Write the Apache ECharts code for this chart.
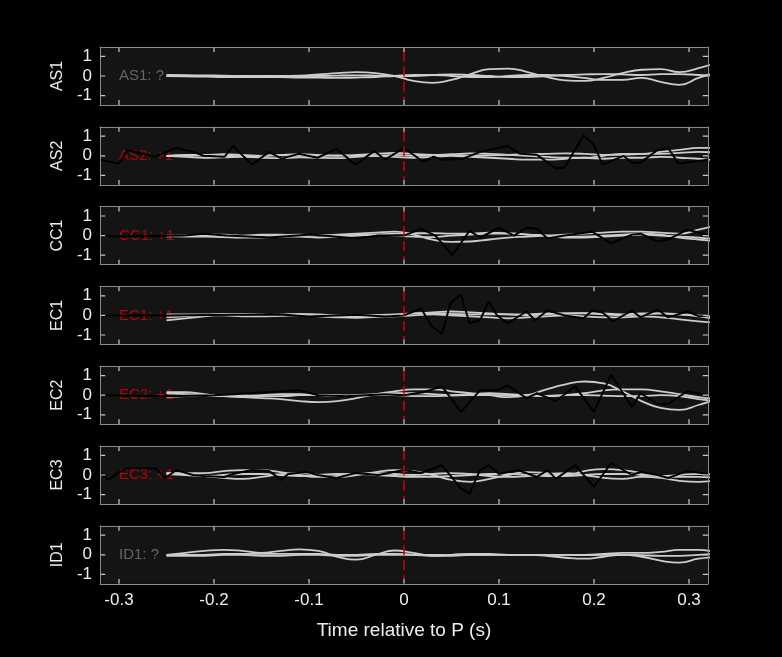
<!DOCTYPE html>
<html>
<head>
<meta charset="UTF-8">
<title>Time relative to P</title>
<style>
  html, body { margin: 0; background: #000; }
  #chart { width: 782px; height: 657px; }
</style>
</head>
<body>
<div id="chart"></div>
<script src="https://cdn.jsdelivr.net/npm/echarts@6/dist/echarts.min.js"></script>
<script>
// station names and their polarity labels
const stations = ['AS1', 'AS2', 'CC1', 'EC1', 'EC2', 'EC3', 'ID1']
const polarity = ['?', '+1', '+1', '+1', '+1', '+1', '?']

// time grid of the gray traces
const grayT = [-0.25, -0.23, -0.21, -0.19, -0.17, -0.15, -0.13, -0.11, -0.09, -0.07, -0.05, -0.03, -0.01,
  0.01, 0.03, 0.05, 0.07, 0.09, 0.11, 0.13, 0.15, 0.17, 0.19, 0.21, 0.23, 0.25, 0.27, 0.29, 0.31, 0.33]

const grayAS1 = [
  [0, 0, 0, 0, 0, 0, 0, 0.02, 0.08, 0.15, 0.2, 0.15, 0, -0.25, -0.35, -0.2, 0.1, 0.35, 0.38, 0.2, -0.05, -0.22, -0.25, -0.1, 0.15, 0.32, 0.35, 0.2, 0.4, 0.7],
  [0, -0.02, -0.03, -0.05, -0.05, -0.05, -0.05, -0.08, -0.08, -0.1, -0.08, -0.05, 0, 0.05, 0.05, 0, -0.05, -0.05, 0, 0.05, 0.05, 0, -0.1, -0.2, -0.2, -0.1, -0.3, -0.45, -0.1, 0.2],
  [0.05, 0.04, 0.03, 0.02, 0, -0.02, -0.03, -0.02, 0, 0.02, 0.03, 0.02, 0, 0, 0.05, 0.08, 0.05, 0, -0.05, -0.05, 0, 0.05, 0.08, 0.1, 0.08, 0.05, 0.1, 0.1, 0.05, 0]
]
const grayAS2 = [
  [0, 0.05, 0.05, 0.08, 0.05, 0, 0.05, 0.08, 0.05, 0, 0.05, 0.1, 0.15, 0.1, 0.05, 0.08, 0.12, 0.1, 0.05, 0, -0.05, -0.1, -0.1, 0, 0.1, 0.1, 0.2, 0.3, 0.4, 0.4],
  [0, -0.05, -0.1, -0.08, -0.05, -0.1, -0.12, -0.08, -0.1, -0.12, -0.05, 0, -0.05, -0.1, -0.05, 0, -0.05, -0.1, -0.15, -0.2, -0.2, -0.15, -0.1, -0.15, -0.1, -0.1, -0.05, -0.1, -0.15, -0.25],
  [0, 0, 0.02, 0, -0.02, 0, 0.03, 0, 0, 0.02, 0, 0, 0.05, 0, 0.02, 0.05, 0, 0.02, 0.05, 0.08, 0.1, 0.12, 0.1, 0.05, 0.05, 0.1, 0.1, 0.15, 0.2, 0.15]
]
const grayCC1 = [
  [-0.05, 0, 0.05, 0.05, 0, 0.05, 0.05, 0, 0, 0.05, 0.1, 0.15, 0.2, 0.05, -0.2, -0.32, -0.3, -0.2, -0.1, -0.05, 0, 0.05, 0.1, 0.15, 0.2, 0.2, 0.15, 0.1, 0.3, 0.55],
  [0, -0.05, -0.05, -0.08, -0.1, -0.1, -0.05, -0.05, -0.1, -0.05, 0, 0.05, 0.1, 0.12, 0.12, 0.1, 0.1, 0.15, 0.12, 0.05, 0, -0.05, -0.05, 0, 0.05, 0.1, 0.05, -0.1, -0.2, -0.3],
  [0, 0, 0.02, 0, -0.02, 0, 0.02, 0.05, 0.02, 0, 0.03, 0.05, 0, -0.05, -0.08, 0, 0.05, 0.1, 0.1, 0.05, 0, -0.1, -0.1, -0.05, 0, 0.05, 0, -0.05, -0.1, -0.2]
]
const grayEC1 = [
  [-0.25, -0.15, -0.05, 0.05, 0.08, 0.05, 0, 0.02, 0, -0.05, -0.08, -0.05, 0, 0.1, 0.15, 0.2, 0.15, 0.1, 0.05, 0, 0.05, 0.1, 0.1, 0.05, 0, 0.05, 0.1, 0.05, 0, -0.1],
  [-0.1, -0.05, 0, 0, -0.05, -0.05, -0.02, 0, -0.05, -0.1, -0.12, -0.08, -0.05, 0, 0.05, 0, -0.05, -0.1, -0.15, -0.1, -0.05, 0, -0.05, -0.1, -0.1, -0.05, -0.1, -0.2, -0.3, -0.4],
  [0.05, 0.05, 0.05, 0.08, 0.05, 0, 0.05, 0.08, 0.05, 0, 0, 0.02, 0.05, 0.1, 0.1, 0.08, 0.05, 0.05, 0.05, 0.05, 0.1, 0.1, 0.12, 0.1, 0.05, 0.1, 0.1, 0.05, -0.05, -0.2]
]
const grayEC2 = [
  [0.15, 0.15, 0.05, -0.05, -0.1, -0.15, -0.2, -0.3, -0.35, -0.3, -0.15, 0.05, 0.2, 0.3, 0.3, 0.2, 0.1, 0, -0.1, 0, 0.3, 0.55, 0.7, 0.6, 0.2, -0.3, -0.65, -0.75, -0.5, -0.2],
  [0.1, 0.05, 0, -0.05, -0.05, 0, 0.05, 0.05, 0, -0.05, 0, 0.05, 0.1, 0.1, 0.05, 0, 0.05, 0.1, 0.05, 0, -0.05, 0, 0.1, 0.25, 0.3, 0.3, 0.2, 0.05, -0.1, -0.2],
  [-0.1, -0.05, 0, 0.02, 0, -0.05, -0.05, 0, 0.02, 0, -0.02, 0, 0, -0.05, -0.05, -0.02, 0, 0, 0, -0.02, -0.03, 0, 0, -0.02, -0.05, -0.05, 0, -0.05, -0.2, -0.3]
]
const grayEC3 = [
  [0.1, 0.05, -0.05, -0.15, -0.2, -0.1, 0.05, 0.1, 0, -0.1, 0, 0.15, 0.25, 0.2, 0, -0.25, -0.35, -0.2, 0, 0.15, 0.1, 0, 0.2, 0.3, 0.25, 0.1, -0.05, 0, 0.05, 0],
  [0.1, 0.1, 0.1, 0.2, 0.25, 0.25, 0.15, 0, -0.1, -0.05, 0.05, 0.1, 0.05, 0, 0.05, 0.1, 0.05, -0.05, -0.1, -0.05, 0.05, 0.1, 0, -0.15, -0.2, -0.1, -0.15, -0.3, -0.35, -0.25],
  [0.05, 0, -0.05, 0, 0.05, 0.05, 0, -0.05, 0, 0.05, 0.05, 0, -0.05, -0.1, -0.1, -0.05, 0, 0.05, 0.05, 0, -0.05, -0.05, 0, 0.05, 0.05, 0, -0.05, -0.1, -0.1, -0.15]
]
const grayID1 = [
  [0, 0.1, 0.2, 0.25, 0.2, 0.1, 0.2, 0.28, 0.2, -0.1, -0.25, 0, 0.22, 0.1, -0.05, -0.05, 0, 0, 0, 0, -0.05, -0.15, -0.2, -0.1, 0, -0.1, -0.3, -0.4, -0.2, -0.1],
  [0, 0, 0, 0.05, 0.05, 0.05, 0.05, 0.05, 0.05, 0, 0, 0.05, 0.05, 0, -0.05, 0, 0.05, 0.05, 0, 0, 0, 0, 0, 0.05, 0.1, 0.1, 0.15, 0.25, 0.25, 0.1],
  [-0.05, -0.05, -0.05, 0, 0, -0.05, -0.05, 0, 0, -0.05, -0.05, 0, 0, 0, 0, -0.02, 0, 0, 0, 0, 0, 0, -0.02, 0, 0, -0.02, -0.05, -0.05, 0, 0.05]
]

// black (picked) traces: times and values
const blackAS2T = [-0.32, -0.3, -0.291, -0.262, -0.24, -0.222, -0.211, -0.189, -0.18, -0.16, -0.142, -0.129, -0.111, -0.091, -0.071, -0.051, -0.031, -0.02, 0,
  0.02, 0.031, 0.04, 0.062, 0.08, 0.109, 0.122, 0.14, 0.16, 0.169, 0.189, 0.2, 0.209, 0.231, 0.24, 0.249, 0.267, 0.278, 0.289, 0.311, 0.32]
const blackAS2V = [-0.2, -0.4, 0.3, -0.05, 0.4, 0.2, 0, -0.05, 0.5, -0.45, 0.2, -0.15, 0.1, -0.1, 0.35, -0.45, 0.25, -0.2, 0.4,
  -0.3, -0.05, -0.2, -0.15, 0.2, 0.5, 0.1, 0.05, -0.65, -0.6, 1.05, 0.55, -0.45, 0, -0.35, -0.35, 0.3, 0.4, -0.4, -0.25, -0.2]
const blackCC1T = [-0.32, -0.3, -0.231, -0.211, -0.187, -0.142, -0.098, -0.049, -0.027, 0, 0.018, 0.033, 0.051, 0.069, 0.08, 0.1, 0.116, 0.129, 0.14, 0.151,
  0.169, 0.198, 0.218, 0.24, 0.249, 0.267, 0.278, 0.298, 0.32]
const blackCC1V = [0, -0.05, 0, 0.1, 0, -0.1, 0.05, -0.15, 0, 0, 0.35, 0, -1.0, 0.25, -0.1, 0.4, 0, 0.4, 0.35, -0.15,
  0, 0.2, -0.4, 0.05, 0.1, -0.3, -0.2, 0.3, 0.05]
const blackEC1T = [-0.32, -0.25, -0.18, -0.13, -0.1, -0.05, -0.02, 0, 0.018, 0.029, 0.04, 0.049, 0.06, 0.069, 0.08, 0.089, 0.098, 0.109, 0.129, 0.138,
  0.151, 0.169, 0.189, 0.198, 0.209, 0.22, 0.24, 0.249, 0.267, 0.278, 0.298, 0.311, 0.32]
const blackEC1V = [0, 0, 0.03, 0.05, -0.05, 0.03, -0.05, 0, 0.35, -0.55, -0.95, 0.65, 1.05, -0.4, -0.25, 0.7, 0, -0.4, 0.2, -0.25,
  0.25, 0, -0.15, 0.25, 0.15, -0.3, 0.25, -0.1, 0.3, -0.1, 0.2, -0.05, 0]
const blackEC2T = [-0.32, -0.25, -0.2, -0.18, -0.111, -0.09, -0.06, -0.02, 0, 0.02, 0.04, 0.06, 0.08, 0.098, 0.109, 0.129, 0.14, 0.16, 0.18, 0.2,
  0.218, 0.24, 0.249, 0.267, 0.278, 0.298, 0.32]
const blackEC2V = [0, -0.05, 0, 0.05, 0.25, 0, -0.05, 0.05, 0, 0.15, 0.45, -0.85, 0.25, 0.25, 0.5, -0.15, 0.1, -0.3, 0.45, -0.85,
  1.05, -0.6, 0.1, -0.45, -0.45, 0.2, 0]
const blackEC3T = [-0.32, -0.311, -0.3, -0.291, -0.262, -0.251, -0.24, -0.222, -0.211, -0.189, -0.18, -0.16, -0.142, -0.129, -0.122, -0.102, -0.091,
  -0.071, -0.051, -0.027, 0, 0.018, 0.04, 0.06, 0.069, 0.08, 0.089, 0.1, 0.12, 0.14, 0.151, 0.16, 0.18, 0.2, 0.218, 0.24, 0.249, 0.267, 0.278, 0.298, 0.32]
const blackEC3V = [0.1, -0.25, 0.15, 0.35, 0.35, -0.15, 0.25, 0, -0.05, -0.1, 0.05, 0.25, 0.2, -0.25, 0.05, 0.15, 0,
  -0.15, 0.1, 0, 0.25, 0.1, 0.5, -0.7, -0.95, 0.25, 0.5, 0.05, 0.25, -0.1, 0.25, -0.2, 0.5, -0.6, 0.6, 0, 0.15, 0, -0.15, 0.2, 0.05]

const grays = [grayAS1, grayAS2, grayCC1, grayEC1, grayEC2, grayEC3, grayID1]
const blacks = [null, [blackAS2T, blackAS2V], [blackCC1T, blackCC1V], [blackEC1T, blackEC1V],
  [blackEC2T, blackEC2V], [blackEC3T, blackEC3V], null]

const xTicks = [-0.3, -0.2, -0.1, 0, 0.1, 0.2, 0.3]
const yTicks = [-1, 0, 1]

const font = 'Liberation Sans, Arial, sans-serif'
const zip = (t, v) => t.map((x, i) => [x, v[i]])
const frame = '#8a8a8a'
const X0 = -0.32, X1 = 0.32, Y0 = -1.48, Y1 = 1.48

// inward tick marks on all four sides, as short broken line segments
const tickPath = []
xTicks.forEach(t => {
  tickPath.push([t, Y0], [t, Y0 + 0.25], '-', [t, Y1], [t, Y1 - 0.25], '-')
})
yTicks.forEach(v => {
  tickPath.push([X0, v], [X0 + 0.0055, v], '-', [X1, v], [X1 - 0.0055, v], '-')
})

const grid = [], xAxis = [], yAxis = [], series = []
stations.forEach((name, i) => {
  const top = 47 + i * 79.8
  const last = i === stations.length - 1
  grid.push({ left: 100, width: 608, top, height: 58, show: false })
  const xBase = {
    type: 'value', gridIndex: i, min: X0, max: X1, splitNumber: 6, z: 10,
    axisLine: { show: true, onZero: false, lineStyle: { color: frame, width: 1 } }, splitLine: { show: false },
    axisTick: { show: false }
  }
  xAxis.push(Object.assign({}, xBase, {
    position: 'bottom',
    axisLabel: { show: last, showMinLabel: false, showMaxLabel: false, color: '#eee', fontSize: 17, fontFamily: font, margin: 8, formatter: v => String(v) },
    name: last ? 'Time relative to P (s)' : '', nameLocation: 'middle', nameGap: 37,
    nameTextStyle: { color: '#eee', fontSize: 19, fontFamily: font }
  }))
  xAxis.push(Object.assign({}, xBase, { position: 'top', axisLabel: { show: false } }))
  const yBase = {
    type: 'value', gridIndex: i, min: Y0, max: Y1, splitNumber: 3, z: 10,
    axisLine: { show: true, onZero: false, lineStyle: { color: frame, width: 1 } }, splitLine: { show: false },
    axisTick: { show: false }
  }
  yAxis.push(Object.assign({}, yBase, {
    position: 'left',
    axisLabel: { showMinLabel: false, showMaxLabel: false, color: '#eee', fontSize: 17, fontFamily: font, margin: 8 },
    name: name, nameLocation: 'middle', nameGap: 28, nameRotate: 90,
    nameTextStyle: { color: '#eee', fontSize: 16, fontFamily: font }
  }))
  yAxis.push(Object.assign({}, yBase, { position: 'right', axisLabel: { show: false } }))

  const xi = i * 2, yi = i * 2
  // panel background, station label and P marker
  series.push({
    type: 'scatter', xAxisIndex: xi, yAxisIndex: yi, silent: true, symbolSize: 0, z: 1,
    data: [[-0.3, 0]],
    label: {
      show: true, position: 'right', distance: 0, formatter: name + ': ' + polarity[i],
      color: polarity[i] === '?' ? '#7a7a7a' : '#e00000', fontSize: 15, fontFamily: font
    },
    markArea: {
      silent: true, itemStyle: { color: '#141414' }, label: { show: false },
      data: [[{ coord: [X0, Y0] }, { coord: [X1, Y1] }]]
    },
    markLine: {
      silent: true, symbol: 'none', animation: false,
      lineStyle: { color: '#d00000', type: [10, 5], width: 1.5 },
      label: { show: false },
      data: [[{ coord: [0, 1.25] }, { coord: [0, -1.25] }]]
    }
  })
  grays[i].forEach(g => series.push({
    type: 'line', xAxisIndex: xi, yAxisIndex: yi, data: zip(grayT, g), smooth: true,
    showSymbol: false, silent: true, clip: true, lineStyle: { color: '#cccccc', width: 1.8 }
  }))
  if (blacks[i]) {
    series.push({
      type: 'line', xAxisIndex: xi, yAxisIndex: yi, data: zip(blacks[i][0], blacks[i][1]),
      showSymbol: false, silent: true, clip: true, lineStyle: { color: '#000', width: 2 }
    })
  }
  series.push({
    type: 'line', xAxisIndex: xi, yAxisIndex: yi, data: tickPath, connectNulls: false,
    showSymbol: false, silent: true, clip: false, z: 5,
    lineStyle: { color: '#c8c8c8', width: 1.2 }
  })
})

const chart = echarts.init(document.getElementById('chart'))
chart.setOption({ backgroundColor: '#000', animation: false, grid, xAxis, yAxis, series })
</script>
</body>
</html>
